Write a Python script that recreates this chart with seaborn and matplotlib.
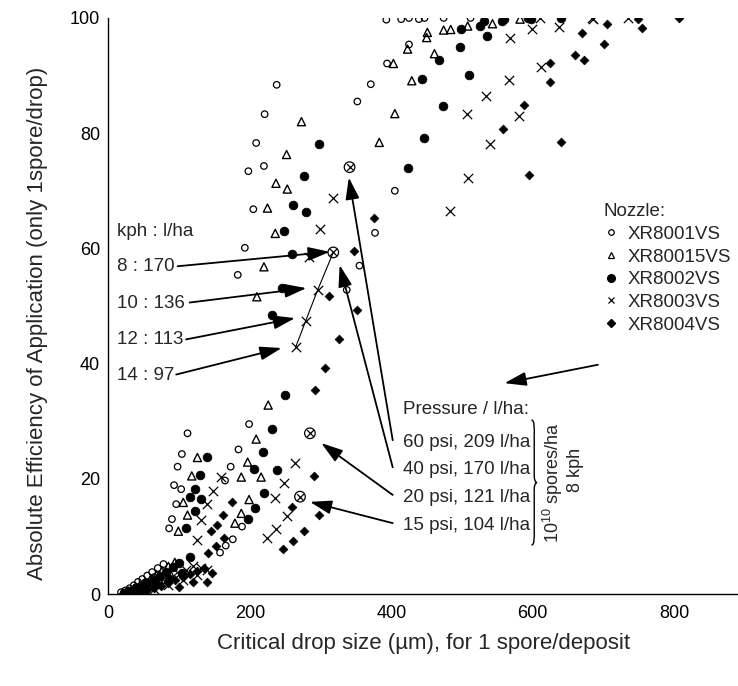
import numpy as np
import pandas as pd
import seaborn as sns
import matplotlib.pyplot as plt
from matplotlib.lines import Line2D
from matplotlib.path import Path
from matplotlib.patches import PathPatch

# XR8001VS - open circles
x_8001 = [393, 414, 425, 439, 447, 474, 512, 425, 394, 371, 352, 405, 377, 355, 337,
          238, 221, 209, 198, 220, 205, 193, 183,
          112, 104, 98, 93, 103, 96, 90, 86, 199, 184, 173, 165, 189, 176, 166, 158,
          18, 24, 30, 36, 42, 48, 55, 62, 70, 78, 28, 40, 52, 64]
y_8001 = [99.7, 99.8, 100, 99.8, 100, 100, 100, 95.4, 92.1, 88.5, 85.5, 70.0, 62.7, 57.0, 52.8,
          88.4, 83.3, 78.3, 73.4, 74.3, 66.8, 60.1, 55.4,
          27.9, 24.3, 22.1, 18.9, 18.2, 15.6, 13.0, 11.4, 29.5, 25.1, 22.1, 19.7, 11.7, 9.5, 8.4, 7.2,
          0.3, 0.6, 1.0, 1.5, 2.1, 2.6, 3.2, 3.8, 4.5, 5.2, 0.4, 1.2, 2.0, 2.9]

# XR80015VS - open triangles
x_80015 = [451, 450, 474, 484, 508, 543, 582, 423, 403, 461, 429, 405, 383,
           273, 252, 237, 253, 225, 236, 220, 210,
           226, 209, 197, 188, 216, 199, 188, 179, 126, 118, 106, 112, 99,
           20, 28, 36, 44, 52, 60, 68, 76, 85, 94, 40, 56, 72, 88]
y_80015 = [97.5, 96.6, 97.9, 98.0, 98.6, 99.0, 99.8, 94.6, 92.1, 93.8, 89.1, 83.4, 78.4,
           82.0, 76.3, 71.3, 70.3, 67.0, 62.6, 56.8, 51.6,
           32.8, 26.9, 22.9, 20.3, 20.3, 16.4, 14.0, 12.3, 23.7, 20.5, 15.9, 13.7, 10.9,
           0.2, 0.5, 0.9, 1.4, 2.0, 2.6, 3.3, 4.0, 4.8, 5.5, 0.8, 1.6, 2.4, 3.4]

# XR8002VS - filled circles
x_8002 = [498, 525, 531, 556, 559, 593, 598, 640, 535, 497, 468, 510, 444, 473, 446, 424,
          298, 277, 261, 279, 248, 260, 245, 232, 250,
          232, 218, 206, 238, 220, 208, 198, 139, 130, 123, 116, 131, 122, 110, 115,
          22, 30, 38, 46, 55, 64, 73, 82, 92, 100, 50, 68, 86, 104]
y_8002 = [98.1, 98.6, 99.4, 99.4, 99.8, 100, 99.9, 100, 96.8, 94.9, 92.7, 90.1, 89.4, 84.7, 79.1, 73.9,
          78.1, 72.6, 67.5, 66.3, 63.0, 59.1, 53.2, 48.4, 34.5,
          28.6, 24.7, 21.7, 21.5, 17.6, 14.9, 13.0, 23.7, 20.7, 18.2, 16.9, 16.5, 14.4, 11.4, 6.5,
          0.2, 0.5, 0.8, 1.3, 1.9, 2.5, 3.2, 3.9, 4.7, 5.3, 0.9, 1.7, 2.6, 3.6]

# XR8003VS - crosses
x_8003 = [610, 599, 568, 637, 683, 685, 735, 611, 567, 534, 507, 581, 540, 509, 483,
          317, 299, 284, 296, 279, 265,
          264, 249, 236, 252, 237, 224, 159, 148, 139, 131, 125, 131,
          30, 40, 50, 60, 70, 80, 90, 100, 110, 120, 65, 85, 105, 125, 140]
y_8003 = [100, 98.0, 96.6, 98.5, 100, 99.8, 100, 91.5, 89.2, 86.5, 83.3, 82.9, 78.1, 72.3, 66.5,
          68.7, 63.3, 58.5, 52.8, 47.4, 42.9,
          22.7, 19.2, 16.7, 13.5, 11.3, 9.8, 20.3, 17.8, 15.6, 12.8, 9.4, 4.5,
          0.2, 0.4, 0.8, 1.2, 1.7, 2.3, 2.9, 3.5, 4.1, 4.8, 0.8, 1.5, 2.4, 3.3, 4.2]

# XR8004VS - filled diamonds
x_8004 = [806, 749, 754, 705, 670, 700, 659, 672, 625, 624, 587, 558, 640, 595,
          375, 348, 312, 351, 326, 307, 292,
          291, 260, 298, 277, 261, 247, 175, 162, 153, 145, 163, 152, 141, 146, 139,
          35, 45, 55, 65, 75, 85, 95, 105, 115, 125, 135, 120, 100]
y_8004 = [100, 99.9, 98.2, 98.9, 97.4, 95.5, 93.6, 92.7, 92.2, 88.8, 84.9, 80.8, 78.4, 72.7,
          65.2, 59.5, 51.7, 49.3, 44.2, 39.3, 35.4,
          20.4, 15.1, 13.7, 11.0, 9.2, 7.8, 16.0, 13.7, 11.9, 11.0, 9.7, 8.4, 7.2, 3.6, 2.0,
          0.2, 0.4, 0.7, 1.0, 1.4, 1.9, 2.4, 3.0, 3.5, 4.0, 4.6, 2.0, 1.3]

# circled reference points (8 kph, 10^10 spores/ha, four pressures)
ref_x = [341, 318, 285, 271]
ref_y = [74.1, 59.3, 27.9, 16.9]

# speed series for XR8003VS at 40 psi
kph_x = [265, 279, 296, 318]
kph_y = [42.9, 47.4, 52.8, 59.3]
kph_labels = ["8 : 170", "10 : 136", "12 : 113", "14 : 97"]
kph_text_y = [56.8, 50.5, 44.1, 38.0]
kph_arrow_x0 = [98, 115, 110, 96]
kph_tip_x = [313, 280, 264, 245]
kph_tip_y = [59.4, 53.1, 47.9, 42.7]

pressure_labels = ["60 psi, 209 l/ha", "40 psi, 170 l/ha", "20 psi, 121 l/ha", "15 psi, 104 l/ha"]
pressure_text_y = [26.3, 21.6, 16.8, 11.9]
pressure_tip_x = [340, 327, 301, 285]
pressure_tip_y = [72.3, 57.1, 26.2, 16.0]

nozzles = ["XR8001VS", "XR80015VS", "XR8002VS", "XR8003VS", "XR8004VS"]

sns.set_style("white")
plt.rcParams['font.family'] = ['Liberation Sans', 'DejaVu Sans']
plt.rcParams['mathtext.fontset'] = 'custom'
plt.rcParams['mathtext.rm'] = 'Liberation Sans'

fig = plt.figure(figsize=(7.38, 6.86), dpi=100)
ax = fig.add_axes([0.1467, 0.1341, 0.8533, 0.8397])

frames = []
for name, xs, ys in zip(nozzles, [x_8001, x_80015, x_8002, x_8003, x_8004],
                        [y_8001, y_80015, y_8002, y_8003, y_8004]):
    frames.append(pd.DataFrame({"size_um": xs, "eff": ys, "nozzle": name}))
df = pd.concat(frames, ignore_index=True)

styles = {
    "XR8001VS": dict(marker="o", s=22, facecolors="none", edgecolor="k", linewidth=0.9),
    "XR80015VS": dict(marker="^", s=34, facecolors="none", edgecolor="k", linewidth=1.0),
    "XR8002VS": dict(marker="o", s=40, facecolors="k", edgecolor="k", linewidth=0.5),
    "XR8003VS": dict(marker="x", s=45, color="k", linewidth=0.9),
    "XR8004VS": dict(marker="D", s=20, facecolors="k", edgecolor="k", linewidth=0.5),
}
for name in nozzles:
    sub = df[df["nozzle"] == name]
    kw = dict(styles[name])
    kw.setdefault("color", "k")
    sns.scatterplot(data=sub, x="size_um", y="eff", ax=ax, legend=False, **kw)

# circled points
ax.scatter(ref_x, ref_y, s=58, facecolors="none", edgecolors="k", linewidths=0.9, zorder=4)
ax.scatter(ref_x, ref_y, s=24, marker="x", color="k", linewidths=0.9, zorder=4)

# thin line through speed points
ax.plot(kph_x, kph_y, color="k", lw=0.8)

arrow_kw = dict(arrowstyle="-|>,head_length=1.1,head_width=0.35", color="k", lw=1.3,
                mutation_scale=12, shrinkA=0, shrinkB=0)

ax.text(12, 63.0, "kph : l/ha", fontsize=13.5, va="center", ha="left")
for lab, ty, x0, tx2, ty2 in zip(kph_labels, kph_text_y, kph_arrow_x0, kph_tip_x, kph_tip_y):
    ax.text(12, ty, lab, fontsize=13.5, va="center", ha="left")
    ax.annotate("", xy=(tx2, ty2), xytext=(x0, ty + 0.1), arrowprops=arrow_kw)

ax.text(416, 32.1, "Pressure / l/ha:", fontsize=13.5, va="center", ha="left")
for lab, ty, tx2, ty2 in zip(pressure_labels, pressure_text_y, pressure_tip_x, pressure_tip_y):
    ax.text(416, ty, lab, fontsize=13.5, va="center", ha="left")
    ax.annotate("", xy=(tx2, ty2), xytext=(402, ty + 0.4), arrowprops=arrow_kw)

# curly brace
bx, bw = 598, 8
yt, yb = 30.2, 8.5
ym = (yt + yb) / 2
verts = [(bx, yt), (bx + bw * 0.6, yt), (bx + bw * 0.5, yt - 1.5), (bx + bw * 0.5, yt - 2.5),
         (bx + bw * 0.5, ym + 1.2),
         (bx + bw * 0.5, ym + 0.3), (bx + bw * 0.8, ym), (bx + bw, ym),
         (bx + bw * 0.8, ym), (bx + bw * 0.5, ym - 0.3), (bx + bw * 0.5, ym - 1.2),
         (bx + bw * 0.5, yb + 2.5),
         (bx + bw * 0.5, yb + 1.5), (bx + bw * 0.6, yb), (bx, yb)]
codes = [Path.MOVETO, Path.CURVE4, Path.CURVE4, Path.CURVE4, Path.LINETO,
         Path.CURVE4, Path.CURVE4, Path.CURVE4, Path.CURVE4, Path.CURVE4, Path.CURVE4,
         Path.LINETO, Path.CURVE4, Path.CURVE4, Path.CURVE4]
ax.add_patch(PathPatch(Path(verts, codes), fill=False, lw=1.0, color="k"))
ax.text(629, 19.3, "$10^{10}$ spores/ha", rotation=90, fontsize=13, va="center", ha="center")
ax.text(660, 21.5, "8 kph", rotation=90, fontsize=13, va="center", ha="center")

# legend
handles = [
    Line2D([], [], ls="", marker="o", ms=4, mfc="none", mec="k", mew=0.9),
    Line2D([], [], ls="", marker="^", ms=5, mfc="none", mec="k", mew=0.9),
    Line2D([], [], ls="", marker="o", ms=5.5, mfc="k", mec="k"),
    Line2D([], [], ls="", marker="x", ms=5, mec="k", mew=0.9),
    Line2D([], [], ls="", marker="D", ms=4, mfc="k", mec="k"),
]
leg = ax.legend(handles, nozzles, title="Nozzle:", loc="upper left",
                bbox_to_anchor=(0.818, 0.704), bbox_transform=fig.transFigure,
                frameon=False, fontsize=13.5, title_fontsize=13.5, handlelength=0.75,
                handletextpad=0.5, labelspacing=0.3, borderpad=0, borderaxespad=0,
                alignment="left")
ax.annotate("", xy=(560, 36.6), xytext=(692, 39.8), arrowprops=arrow_kw)

ax.set_xlim(0, 890)
ax.set_ylim(0, 100)
ax.set_xticks([0, 200, 400, 600, 800])
ax.set_xticks([100, 300, 500, 700], minor=True)
ax.set_yticks([0, 20, 40, 60, 80, 100])
ax.set_yticks([10, 30, 50, 70, 90], minor=True)
ax.tick_params(axis="both", which="both", direction="in", labelsize=13, colors="k")
ax.tick_params(axis="x", which="major", length=7, width=1, pad=8)
ax.tick_params(axis="x", which="minor", length=4, width=1)
ax.tick_params(axis="y", which="both", length=4, width=1, pad=6)
sns.despine(ax=ax)
for sp in ["left", "bottom"]:
    ax.spines[sp].set_color("k")
    ax.spines[sp].set_linewidth(1)

ax.set_xlabel("Critical drop size (\u00b5m), for 1 spore/deposit", fontsize=16)
ax.set_ylabel("Absolute Efficiency of Application (only 1spore/drop)", fontsize=16)
ax.xaxis.set_label_coords(0.5, -0.068)
ax.yaxis.set_label_coords(-0.096, 0.47)

plt.savefig("out.png", dpi=100)
